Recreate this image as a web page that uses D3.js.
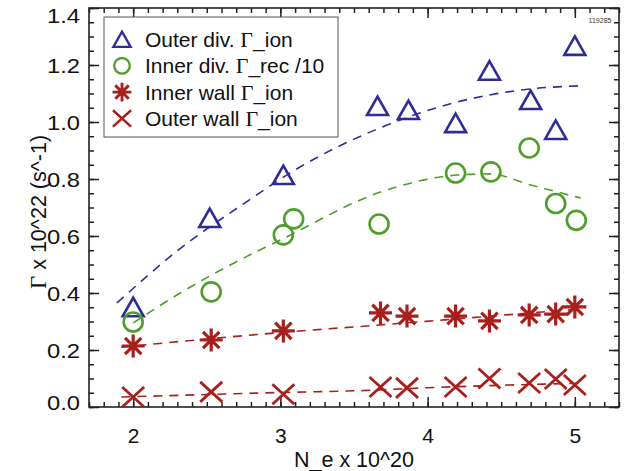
<!DOCTYPE html>
<html>
<head>
<meta charset="utf-8">
<title>Gamma vs N_e</title>
<script src="https://d3js.org/d3.v7.min.js"></script>
<style>
html, body { margin: 0; padding: 0; background: #fff; }
svg { display: block; font-family: "Liberation Sans", Arial, Helvetica, sans-serif; }
.axis path { display: none; }
.axis line { stroke: #222; stroke-width: 1.5; }
.axis text { font-size: 21px; fill: #111; font-family: "Liberation Sans", Arial, sans-serif; }
.fit { fill: none; stroke-width: 1.6; stroke-dasharray: 9,7; }
.greek { font-family: "Liberation Serif", "Times New Roman", serif; }
</style>
</head>
<body>
<script>
// measured points (N_e in 10^20, Gamma in 10^22 s^-1)
const neOuterDiv   = [2.0, 2.52, 3.02, 3.66, 3.87, 4.19, 4.42, 4.70, 4.87, 5.0];
const outerDivIon  = [0.35, 0.663, 0.814, 1.056, 1.042, 0.996, 1.18, 1.077, 0.972, 1.267];
const neInnerDiv   = [2.0, 2.53, 3.02, 3.09, 3.67, 4.19, 4.43, 4.69, 4.87, 5.01];
const innerDivRec  = [0.298, 0.404, 0.604, 0.66, 0.642, 0.821, 0.825, 0.909, 0.714, 0.655];
const neWall       = [2.0, 2.53, 3.02, 3.68, 3.86, 4.19, 4.42, 4.69, 4.87, 5.0];
const innerWallIon = [0.214, 0.235, 0.267, 0.33, 0.319, 0.319, 0.302, 0.323, 0.326, 0.351];
const outerWallIon = [0.035, 0.053, 0.045, 0.07, 0.067, 0.07, 0.10, 0.084, 0.098, 0.077];

// dashed fit curves
const fitOuterDivX  = [1.89, 2.3, 2.77, 3.11, 3.68, 4.2, 4.7, 5.03];
const fitOuterDivY  = [0.365, 0.548, 0.72, 0.835, 0.98, 1.07, 1.116, 1.127];
const fitInnerDivX  = [2.0, 2.32, 2.86, 3.0, 3.68, 4.2, 4.42, 4.70, 5.04];
const fitInnerDivY  = [0.295, 0.40, 0.551, 0.586, 0.754, 0.814, 0.818, 0.779, 0.733];
const fitInnerWallX = [1.92, 2.53, 3.02, 3.68, 4.36, 5.06];
const fitInnerWallY = [0.21, 0.24, 0.262, 0.288, 0.316, 0.345];
const fitOuterWallX = [1.92, 2.86, 3.68, 3.97, 4.36, 5.06];
const fitOuterWallY = [0.035, 0.049, 0.06, 0.067, 0.074, 0.084];

const legendLabels = ['Outer div. ', 'Inner div. ', 'Inner wall ', 'Outer wall '];
const legendSuffix = ['_ion', '_rec /10', '_ion', '_ion'];
const xTicks = [2, 3, 4, 5];
const yTicks = [0.0, 0.2, 0.4, 0.6, 0.8, 1.0, 1.2, 1.4];

const w = 631, h = 471;
const plotL = 89, plotR = 619, plotT = 8, plotB = 407;

const blue = '#302c96', green = '#4e9e2a', red = '#a8201c';

const svg = d3.select('body').append('svg').attr('width', w).attr('height', h);

const x = d3.scaleLinear().domain([1.7, 5.3]).range([plotL, plotR]);
const y = d3.scaleLinear().domain([0, 1.4]).range([plotB, plotT]);

// minor ticks
const xMinor = d3.range(17, 54).map(d => d / 10);
const yMinor = d3.range(0, 29).map(d => d * 0.05);

function addAxis(gen, tx, ty, values, size, fmt) {
    return svg.append('g').attr('class', 'axis')
        .attr('transform', 'translate(' + tx + ',' + ty + ')')
        .call(gen.tickValues(values).tickSizeInner(size).tickSizeOuter(0).tickPadding(fmt ? 9 : 0)
            .tickFormat(fmt || (() => '')));
}

addAxis(d3.axisBottom(x), 0, plotB, xMinor, -5);
addAxis(d3.axisTop(x), 0, plotT, xMinor, -5);
addAxis(d3.axisLeft(y), plotL, 0, yMinor, -5);
addAxis(d3.axisRight(y), plotR, 0, yMinor, -5);
addAxis(d3.axisTop(x), 0, plotT, xTicks, -10);
addAxis(d3.axisRight(y), plotR, 0, yTicks, -10);

const xAx = addAxis(d3.axisBottom(x), 0, plotB, xTicks, -10, d3.format('d'));
xAx.selectAll('text').attr('y', 21);
const yAx = addAxis(d3.axisLeft(y), plotL, 0, yTicks, -10, d3.format('.1f'));
yAx.selectAll('text')
    .attr('dy', d => d === 1.4 ? '0.7em' : (d === 0 ? '0.1em' : '0.35em'))
    .attr('textLength', 33).attr('lengthAdjust', 'spacingAndGlyphs');

svg.append('rect')
    .attr('x', plotL).attr('y', plotT)
    .attr('width', plotR - plotL).attr('height', plotB - plotT)
    .attr('fill', 'none').attr('stroke', '#222').attr('stroke-width', 1.6);

// axis titles
svg.append('text')
    .attr('x', (plotL + plotR) / 2).attr('y', 467)
    .attr('text-anchor', 'middle').attr('font-size', 21.5).attr('fill', '#111')
    .text('N_e x 10^20');

const yTitle = svg.append('text')
    .attr('transform', 'translate(46,212) rotate(-90)')
    .attr('text-anchor', 'middle').attr('font-size', 21.5).attr('fill', '#111');
yTitle.append('tspan').attr('class', 'greek').attr('font-size', 23).text('\u0393');
yTitle.append('tspan').text(' x 10^22 (s^-1)');

svg.append('text')
    .attr('x', 600).attr('y', 23)
    .attr('text-anchor', 'middle').attr('font-size', 7).attr('fill', '#333')
    .text('119285');

// fit curves
const line = d3.line().x(d => x(d[0])).y(d => y(d[1])).curve(d3.curveMonotoneX);
const fits = [
    [fitOuterDivX, fitOuterDivY, blue],
    [fitInnerDivX, fitInnerDivY, green],
    [fitInnerWallX, fitInnerWallY, red],
    [fitOuterWallX, fitOuterWallY, red]
];
fits.forEach(f => {
    svg.append('path')
        .datum(f[0].map((v, i) => [v, f[1][i]]))
        .attr('class', 'fit')
        .attr('stroke', f[2])
        .attr('d', line);
});

// marker shapes
const shapes = {
    triangle: s => 'M' + (-10.5 * s) + ',' + (9 * s) + 'L' + (10.5 * s) + ',' + (9 * s) + 'L0,' + (-9.5 * s) + 'Z',
    circle: s => d3.arc()({innerRadius: 0, outerRadius: 9.5 * s, startAngle: 0, endAngle: 2 * Math.PI}),
    asterisk: s => {
        const a = 11.5 * s, b = 8.2 * s;
        return 'M' + (-a) + ',0L' + a + ',0M0,' + (-a) + 'L0,' + a +
            'M' + (-b) + ',' + (-b) + 'L' + b + ',' + b + 'M' + (-b) + ',' + b + 'L' + b + ',' + (-b);
    },
    cross: s => {
        const a = 11 * s, b = 10 * s;
        return 'M' + (-a) + ',' + (-b) + 'L' + a + ',' + b + 'M' + (-a) + ',' + b + 'L' + a + ',' + (-b);
    }
};

const series = [
    {xs: neOuterDiv, ys: outerDivIon, shape: 'triangle', color: blue, sw: 2.6},
    {xs: neInnerDiv, ys: innerDivRec, shape: 'circle', color: green, sw: 2.6},
    {xs: neWall, ys: innerWallIon, shape: 'asterisk', color: red, sw: 3.2},
    {xs: neWall, ys: outerWallIon, shape: 'cross', color: red, sw: 2.8}
];

series.forEach(s => {
    svg.append('g').selectAll('path')
        .data(s.xs.map((v, i) => [v, s.ys[i]]))
        .enter().append('path')
        .attr('transform', d => 'translate(' + x(d[0]) + ',' + y(d[1]) + ')')
        .attr('d', shapes[s.shape](1))
        .attr('fill', 'none')
        .attr('stroke', s.color)
        .attr('stroke-width', s.sw);
});

// legend
const lg = svg.append('g');
lg.append('rect')
    .attr('x', 104).attr('y', 17).attr('width', 234).attr('height', 120)
    .attr('fill', '#fff').attr('stroke', '#555').attr('stroke-width', 1);

series.forEach((s, i) => {
    const cy = 39.5 + i * 26.3;
    lg.append('path')
        .attr('transform', 'translate(122,' + cy + ')')
        .attr('d', shapes[s.shape](0.82))
        .attr('fill', 'none').attr('stroke', s.color).attr('stroke-width', s.sw * 0.9);
    const t = lg.append('text')
        .attr('x', 145).attr('y', cy + 7.5)
        .attr('font-size', 21).attr('fill', '#111');
    t.append('tspan').text(legendLabels[i]);
    t.append('tspan').attr('class', 'greek').attr('font-size', 22).text('\u0393');
    t.append('tspan').text(legendSuffix[i]);
});
</script>
</body>
</html>
